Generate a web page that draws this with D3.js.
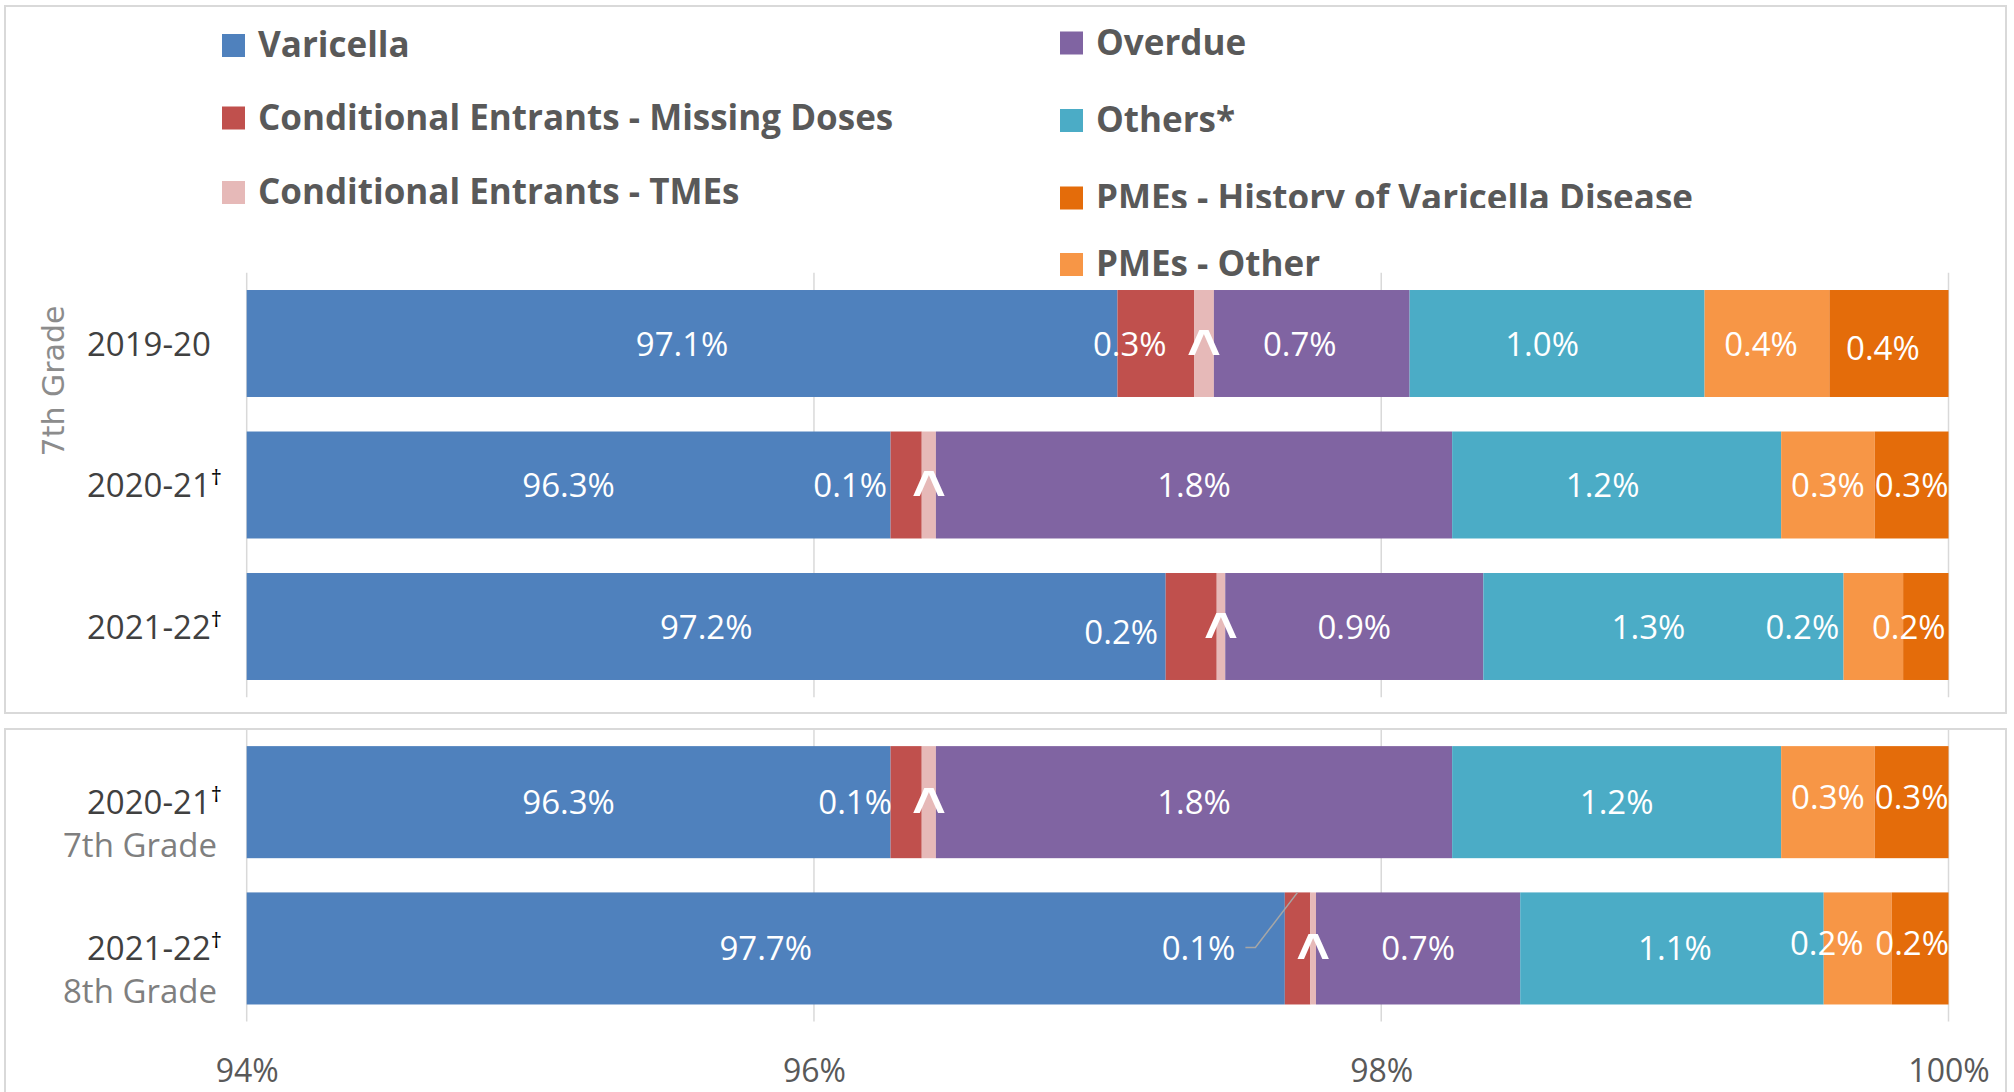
<!DOCTYPE html>
<html>
<head>
<meta charset="utf-8">
<script src="https://cdn.jsdelivr.net/npm/d3@7"></script>
<style>
  body { margin: 0; background: #fff; }
  svg { display: block; font-family: "Open Sans", sans-serif; }
</style>
</head>
<body>
<svg id="chart" width="2014" height="1092"></svg>
<script>
// ---- data (percent of students) ----
const seriesKeys   = ["varicella", "missing", "tmes", "overdue", "others", "pmeOther", "pmeHistory"];
const seriesNames  = ["Varicella", "Conditional Entrants - Missing Doses", "Conditional Entrants - TMEs",
                      "Overdue", "Others*", "PMEs - Other", "PMEs - History of Varicella Disease"];
const seriesColors = ["#4f81bd", "#c0504d", "#e6b9b8", "#8064a2", "#4bacc6", "#f79646", "#e46c0a"];

// rows 0-2: 7th grade panel, rows 3-4: cohort panel
const rowYears   = ["2019-20", "2020-21", "2021-22", "2020-21", "2021-22"];
const rowDagger  = [false, true, true, true, true];
const rowGrades  = [null, null, null, "7th Grade", "8th Grade"];

const varicella  = [97.07, 96.27, 97.24, 96.27, 97.66];
const missing    = [0.27, 0.11, 0.18, 0.11, 0.09];
const tmes       = [0.07, 0.05, 0.03, 0.05, 0.02];
const overdue    = [0.69, 1.82, 0.91, 1.82, 0.72];
const others     = [1.04, 1.16, 1.27, 1.16, 1.07];
const pmeOther   = [0.44, 0.33, 0.21, 0.33, 0.24];
const pmeHistory = [0.42, 0.26, 0.16, 0.26, 0.20];

const xTicks = [94, 96, 98, 100];

// ---- layout ----
const svg = d3.select("#chart");
const x = d3.scaleLinear().domain([94, 100]).range([246.7, 1948.5]);

const panels = [
  {rows: [0, 1, 2], box: [5, 6, 2006, 713], range: [272.75, 697.25], pad: 0.244},
  {rows: [3, 4],    box: [5, 729, 2006, 1110], range: [729, 1021.6], pad: 0.234}
];

// label nudges (px from segment centre), only where the original labels were moved
const nudge = {
  "0|missing": [-26, 0], "0|overdue": [-12, 0], "0|others": [-15, 0], "0|pmeOther": [-6, 0], "0|pmeHistory": [-6, 4],
  "1|missing": [-56, 0], "1|others": [-14, 0],
  "2|missing": [-70, 5], "2|others": [-15, 0], "2|pmeOther": [-71, 0], "2|pmeHistory": [-17, 0],
  "3|missing": [-51, 0], "3|pmeOther": [0, -5], "3|pmeHistory": [0, -5],
  "4|missing": [-99, 0], "4|others": [3, 0], "4|pmeOther": [-31, -5], "4|pmeHistory": [-8, -5]
};

const table = rowYears.map((y, i) => ({
  row: i, varicella: varicella[i], missing: missing[i], tmes: tmes[i], overdue: overdue[i],
  others: others[i], pmeOther: pmeOther[i], pmeHistory: pmeHistory[i]
}));
const stacked = d3.stack().keys(seriesKeys)(table);

const fmt = d3.format(".1f");

panels.forEach(p => {
  const y = d3.scaleBand().domain(p.rows).range(p.range)
      .paddingInner(p.pad).paddingOuter(p.pad / 2);

  svg.append("rect")
      .attr("x", p.box[0]).attr("y", p.box[1])
      .attr("width", p.box[2] - p.box[0]).attr("height", p.box[3] - p.box[1])
      .attr("fill", "none").attr("stroke", "#d9d9d9").attr("stroke-width", 2);

  svg.append("g").selectAll("line")
    .data(xTicks)
    .join("line")
      .attr("x1", d => x(d)).attr("x2", d => x(d))
      .attr("y1", p.range[0]).attr("y2", p.range[1])
      .attr("stroke", "#d9d9d9").attr("stroke-width", 1.5);

  const layers = svg.append("g").selectAll("g")
    .data(stacked)
    .join("g")
      .attr("fill", (d, i) => seriesColors[i]);

  layers.selectAll("rect")
    .data(d => d.filter(v => p.rows.includes(v.data.row)))
    .join("rect")
      .attr("x", d => x(Math.max(94, d[0])))
      .attr("y", d => y(d.data.row))
      .attr("width", d => x(d[1]) - x(Math.max(94, d[0])))
      .attr("height", y.bandwidth());

  // value labels
  stacked.forEach(layer => {
    const key = layer.key;
    layer.filter(v => p.rows.includes(v.data.row)).forEach(v => {
      const r = v.data.row;
      const cx = (x(Math.max(94, v[0])) + x(v[1])) / 2;
      const cy = y(r) + y.bandwidth() / 2;
      const n = nudge[r + "|" + key] || [0, 0];
      if (key === "tmes") {
        svg.append("text")
          .attr("x", cx).attr("y", cy + 25)
          .attr("text-anchor", "middle")
          .attr("fill", "#fff")
          .style("font-family", "'Liberation Sans', sans-serif")
          .style("font-weight", "bold")
          .style("font-size", "58px")
          .text("^");
        return;
      }
      const t = svg.append("text")
        .attr("x", cx + n[0]).attr("y", cy + 12 + n[1])
        .attr("text-anchor", "middle")
        .attr("fill", "#fff")
        .style("font-size", "33px")
        .text(fmt(v.data[key]) + "%");
      if (r === 4 && key === "missing") {
        // leader line to the thin segment
        const bb = t.node().getBBox();
        const lx = bb.x + bb.width + 10, ly = cy - 1;
        svg.append("polyline")
          .attr("points", [[lx, ly], [lx + 10, ly], [cx, y(r)]].map(q => q.join(",")).join(" "))
          .attr("fill", "none").attr("stroke", "#a6a6a6").attr("stroke-width", 1.5);
      }
    });
  });

  // category labels
  p.rows.forEach(r => {
    const cy = y(r) + y.bandwidth() / 2;
    const t = svg.append("text")
      .attr("x", 87).attr("y", cy + 12)
      .attr("fill", "#404040")
      .style("font-size", "33px")
      .text(rowYears[r]);
    if (rowDagger[r]) {
      t.append("tspan").attr("dy", -12).attr("fill", "#000")
        .style("font-size", "22px").text("\u2020");
    }
    if (rowGrades[r]) {
      svg.append("text")
        .attr("x", 63).attr("y", cy + 55)
        .attr("fill", "#7f7f7f")
        .style("font-size", "33px")
        .text(rowGrades[r]);
    }
  });
});

// rotated group label for the top panel
svg.append("text")
  .attr("transform", "translate(64,381) rotate(-90)")
  .attr("text-anchor", "middle")
  .attr("fill", "#8c8c8c")
  .style("font-family", "'DejaVu Sans', sans-serif")
  .style("font-size", "30px")
  .text("7th Grade");

// x axis
const axis = svg.append("g")
  .attr("transform", "translate(0,1082)")
  .call(d3.axisBottom(x).tickValues(xTicks).tickFormat(d => d + "%").tickSize(0));
axis.select(".domain").remove();
axis.selectAll("text")
  .attr("y", 0).attr("dy", 0)
  .attr("fill", "#595959")
  .style("font-family", "'Open Sans', sans-serif")
  .style("font-size", "32px");

// legend
svg.append("clipPath").attr("id", "legend-clip")
  .append("rect").attr("x", 0).attr("y", -40).attr("width", 700).attr("height", 50);

const legendCols = [
  {x: 222, items: [0, 1, 2], ys: [45.5, 118, 192.5]},
  {x: 1060, items: [3, 4, 6, 5], ys: [43, 120.5, 198, 264.5]}
];
legendCols.forEach(col => {
  col.items.forEach((s, j) => {
    const g = svg.append("g").attr("transform", `translate(${col.x},${col.ys[j]})`);
    g.append("rect").attr("x", 0).attr("y", -11.5).attr("width", 23).attr("height", 23)
      .attr("fill", seriesColors[s]);
    const t = g.append("text").attr("x", 36).attr("y", 11.5)
      .attr("fill", "#595959")
      .style("font-weight", "bold")
      .style("font-size", "35px")
      .text(seriesNames[s]);
    // the original legend box cuts this entry off just below its baseline
    if (s === 6) t.attr("clip-path", "url(#legend-clip)");
  });
});
</script>
</body>
</html>
